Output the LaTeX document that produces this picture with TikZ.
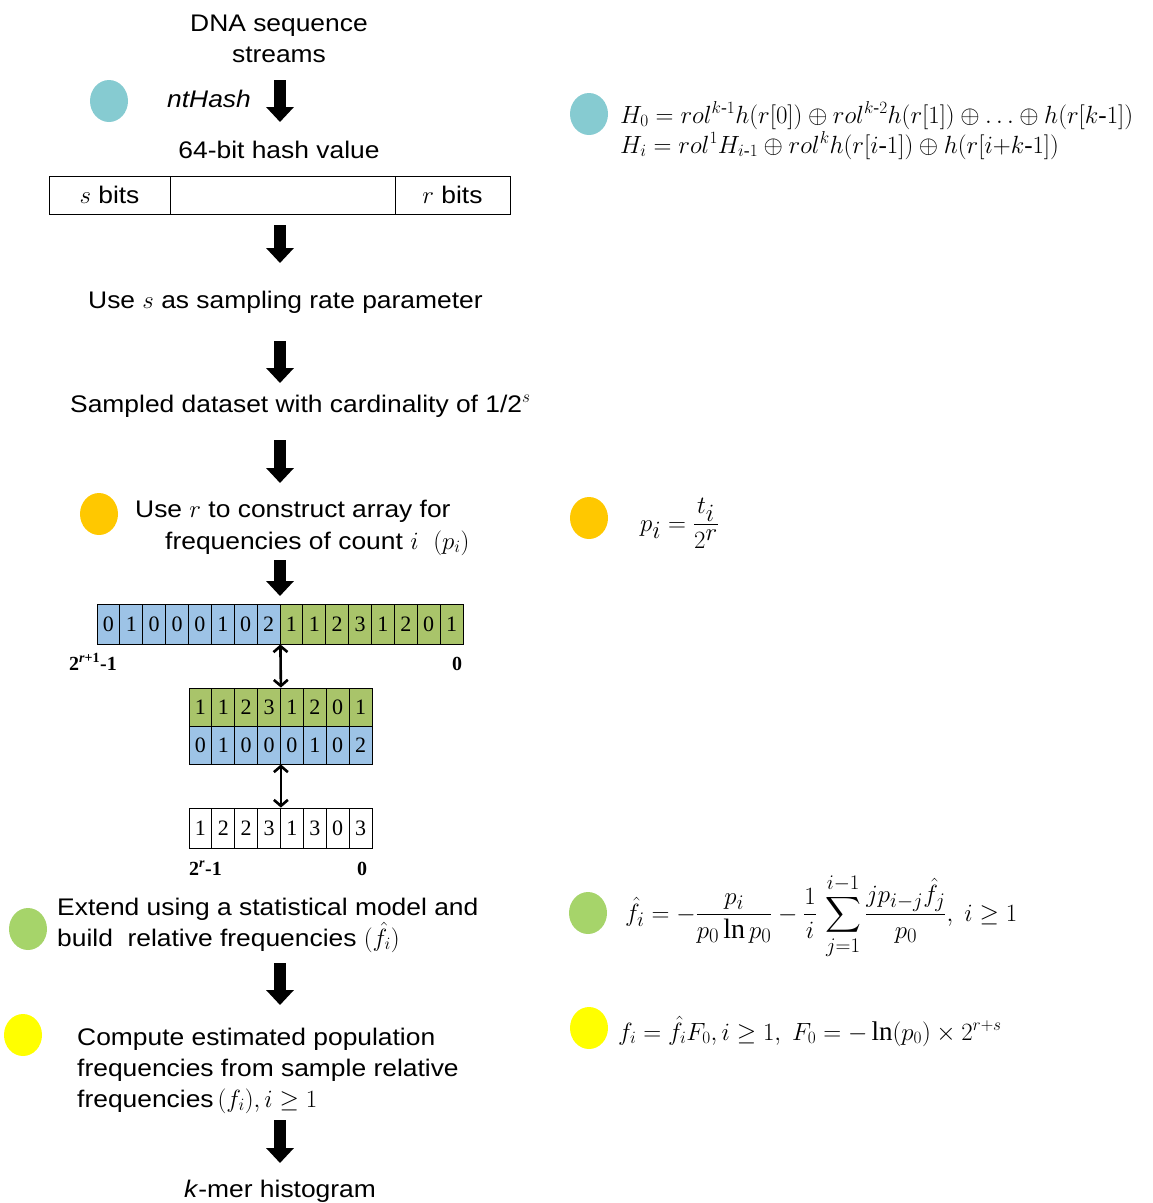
\documentclass[tikz,border=0pt]{standalone}
\usepackage{amsmath}
\usepackage{fontspec}
\setmainfont{Liberation Serif}
\setsansfont{Liberation Sans}[FakeStretch=1.1]
\usetikzlibrary{arrows.meta,shapes.geometric}
\definecolor{cy}{RGB}{134,203,209}
\definecolor{og}{RGB}{255,200,0}
\definecolor{gr}{RGB}{166,212,106}
\definecolor{ye}{RGB}{255,255,0}
\definecolor{cellblue}{RGB}{157,195,230}
\definecolor{cellgreen}{RGB}{169,196,106}
\newcommand{\inlmath}[1]{{\fontsize{27}{31}\selectfont$#1$}}
\begin{document}
\begin{tikzpicture}[x=1pt,y=-1pt,
  font=\fontsize{24}{31}\selectfont\sffamily,
  dot/.style={ellipse, minimum width=38pt, minimum height=42pt, inner sep=0pt, draw=none},
  blk/.style={line width=12pt, -{Triangle[width=27pt,length=15pt]}},
  dbl/.style={line width=2.6pt, {Straight Barb[length=6pt,width=14pt]}-{Straight Barb[length=6pt,width=14pt]}},
  cell/.style={draw, line width=0.8pt, minimum width=22.875pt, minimum height=40pt, inner sep=0pt, font=\fontsize{22}{22}\selectfont\rmfamily},
  hbox/.style={draw, line width=0.8pt, minimum height=38pt, inner sep=0pt},
  txt/.style={inner sep=0pt},
  fml/.style={inner sep=0pt, font=\fontsize{25}{28}\selectfont\rmfamily},
  lab/.style={inner sep=0pt, font=\fontsize{20}{20}\selectfont\rmfamily\bfseries}
]
\useasboundingbox (0,0) rectangle (1153,1203);

% ---------- left column texts ----------
\node[txt, anchor=base] (dna1) at (279,31) {DNA sequence};
\node[txt, anchor=base] (dna2) at (279,62) {streams};
\node[dot, fill=cy] (d1) at (109,101) {};
\node[txt, anchor=base west] (nth) at (167,107) {\itshape ntHash};
\node[txt, anchor=base] (hash) at (279,158) {64-bit hash value};

\node[hbox, minimum width=121pt] (hb1) at (109.5,195) {$s$ bits};
\node[hbox, minimum width=225pt] (hb2) at (282.5,195) {};
\node[hbox, minimum width=115pt] (hb3) at (452.5,195) {$r$ bits};

\node[txt, anchor=base west] (use) at (88,308) {Use $s$ as sampling rate parameter};
\node[txt, anchor=base west] (samp) at (70,412) {Sampled dataset with cardinality of 1/2$^{s}$};

\node[dot, fill=og] (d2) at (99,514) {};
\node[txt, anchor=base west] (con1) at (135,517) {Use $r$ to construct array for};
\node[txt, anchor=base west] (con2) at (165,549) {frequencies of count $i$\ \ \inlmath{(p_i)}};

% ---------- arrays ----------
\foreach \v [count=\k] in {0,1,0,0,0,1,0,2}
  \node[cell, fill=cellblue] (a\k) at ({97+(\k-0.5)*22.875},624) {\v};
\foreach \v [count=\k from 9] in {1,1,2,3,1,2,0,1}
  \node[cell, fill=cellgreen] (a\k) at ({97+(\k-0.5)*22.875},624) {\v};
\node[lab, anchor=base west] (l1) at (69,670) {2\textsuperscript{\itshape r\upshape +1}-1};
\node[lab, anchor=base] (l2) at (457,670) {0};

\foreach \v [count=\k] in {1,1,2,3,1,2,0,1}
  \node[cell, fill=cellgreen, minimum height=38pt] (b\k) at ({189+(\k-0.5)*22.875},707) {\v};
\foreach \v [count=\k] in {0,1,0,0,0,1,0,2}
  \node[cell, fill=cellblue, minimum height=38pt] (c\k) at ({189+(\k-0.5)*22.875},745) {\v};
\foreach \v [count=\k] in {1,2,2,3,1,3,0,3}
  \node[cell, fill=white] (e\k) at ({189+(\k-0.5)*22.875},828) {\v};
\node[lab, anchor=base west] (l3) at (189,875) {2\textsuperscript{\itshape r}-1};
\node[lab, anchor=base] (l4) at (362,875) {0};

\draw[dbl] (a8.south east) -- (b4.north east);
\draw[dbl] (c4.south east) -- (e4.north east);

% ---------- lower texts ----------
\node[dot, fill=gr] (d3) at (28,929) {};
\node[txt, anchor=base west] (ext1) at (57,915) {Extend using a statistical model and};
\node[txt, anchor=base west] (ext2) at (57,946) {build\ \ relative frequencies\ \inlmath{(\hat{f}_i)}};

\node[dot, fill=ye] (d4) at (23,1035) {};
\node[txt, anchor=base west] (cmp1) at (77,1045) {Compute estimated population};
\node[txt, anchor=base west] (cmp2) at (77,1076) {frequencies from sample relative};
\node[txt, anchor=base west] (cmp3) at (77,1107) {frequencies\,\inlmath{(f_i),i\ge 1}};

\node[txt, anchor=base] (kmer) at (280,1197) {\textit{k}-mer histogram};

% ---------- block arrows ----------
\foreach \n/\ys/\ye in {1/80/122, 2/225/263, 3/341/383, 4/440/483, 5/560/596, 6/963/1005, 7/1120/1163}{
  \coordinate (bs\n) at (280,\ys);
  \coordinate (be\n) at (280,\ye);
  \draw[blk] (bs\n) -- (be\n);
}

% ---------- right column formulas ----------
\node[dot, fill=cy] (r1) at (589,114) {};
\node[fml, anchor=base west] (f1) at (620,123) {$H_0 = rol^{k\text{-}1}h(r[0]) \oplus rol^{k\text{-}2}h(r[1]) \oplus \ldots \oplus h(r[k\text{-}1])$};
\node[fml, anchor=base west] (f2) at (620,153) {$H_i = rol^1H_{i\text{-}1} \oplus rol^kh(r[i\text{-}1]) \oplus h(r[i{+}k\text{-}1])$};

\node[dot, fill=og] (r2) at (589,518) {};
\node[fml, anchor=base west, font=\fontsize{33}{36}\selectfont\rmfamily] (f3) at (640,531) {$\displaystyle p_i = \frac{t_i}{2^r}$};

\node[dot, fill=gr] (r3) at (588,913) {};
\node[fml, anchor=base west, font=\fontsize{28}{30}\selectfont\rmfamily] (f4) at (625,921) {$\displaystyle \hat{f}_i = -\frac{p_i}{p_0\ln p_0} - \frac{1}{i}\,\sum_{j=1}^{i-1}\frac{jp_{i-j}\hat{f}_j}{p_0},\ i\ge 1$};

\node[dot, fill=ye] (r4) at (589,1028) {};
\node[fml, anchor=base west, font=\fontsize{27}{30}\selectfont\rmfamily] (f5) at (618,1040) {$f_i = \hat{f}_iF_0, i\ge 1,\ F_0 = -\ln(p_0)\times 2^{r+s}$};
\end{tikzpicture}
\end{document}
